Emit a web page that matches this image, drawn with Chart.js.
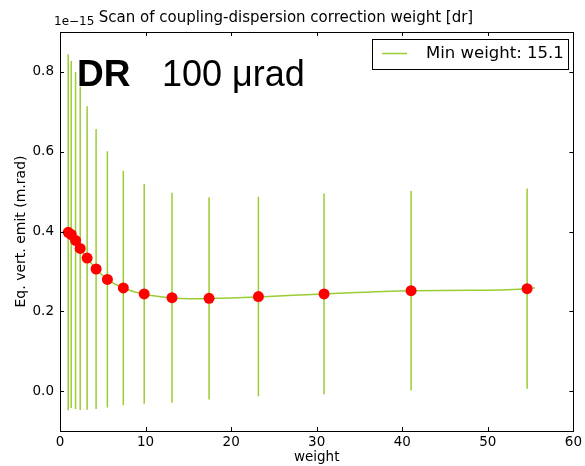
<!DOCTYPE html>
<html>
<head>
<meta charset="utf-8">
<script src="https://cdn.jsdelivr.net/npm/chart.js@4.4.1/dist/chart.umd.min.js"></script>
<style>
html,body{margin:0;padding:0;background:#fff;}
#wrap{width:585px;height:466px;}
</style>
</head>
<body>
<div id="wrap"><canvas id="c" width="585" height="466"></canvas></div>
<script>
// ---- data (emittance values in units of 1e-15 m.rad) ----
const weights = [0.96, 1.31, 1.82, 2.36, 3.17, 4.22, 5.54, 7.40, 9.84, 13.09, 17.42, 23.19, 30.86, 41.03, 54.59];
const emit    = [0.398, 0.3925, 0.3775, 0.3575, 0.3335, 0.306, 0.280, 0.2585, 0.2435, 0.234, 0.2325, 0.2368, 0.2435, 0.2518, 0.2568];
const emitErr = [0.446, 0.435, 0.4225, 0.405, 0.3805, 0.351, 0.321, 0.294, 0.2755, 0.263, 0.2535, 0.250, 0.2515, 0.250, 0.251];
const fitX = [0.96, 1.31, 1.82, 2.36, 3.17, 4.22, 5.54, 7.40, 9.84, 13.09, 15.1, 17.42, 23.19, 30.86, 41.03, 48.0, 54.59, 55.5];
const fitY = [0.398, 0.3925, 0.3775, 0.3575, 0.3335, 0.306, 0.280, 0.2585, 0.2425, 0.2335, 0.2315, 0.232, 0.236, 0.2435, 0.2515, 0.2525, 0.2565, 0.259];
const xTicks = [0, 10, 20, 30, 40, 50, 60];
const yTicks = [0.0, 0.2, 0.4, 0.6, 0.8];
const titleText = "Scan of coupling-dispersion correction weight [dr]";
const offsetText = "1e\u221215";
const legendText = "Min weight: 15.1";
const xTitle = "weight";
const yTitle = "Eq. vert. emit (m.rad)";
const annoBold = "DR";
const annoText = "100 \u03bcrad";

const GREEN = "#9acd32";
const TICKFONT = '"DejaVu Sans", sans-serif';

const pts = weights.map((w, i) => ({x: w, y: emit[i]}));
const bars = [];
weights.forEach((w, i) => {
  bars.push({x: w, y: emit[i] - emitErr[i]});
  bars.push({x: w, y: emit[i] + emitErr[i]});
  bars.push({x: w, y: null});
});
const fit = fitX.map((x, i) => ({x: x, y: fitY[i]}));

const decor = {
  id: 'decor',
  afterDraw(chart) {
    const ctx = chart.ctx;
    const a = chart.chartArea;
    const xs = chart.scales.x, ys = chart.scales.y;
    ctx.save();
    // frame
    ctx.strokeStyle = '#000';
    ctx.lineWidth = 1;
    ctx.strokeRect(Math.round(a.left) + 0.5, Math.round(a.top) + 0.5, Math.round(a.right - a.left), Math.round(a.bottom - a.top));
    // inward ticks
    const TL = 4;
    ctx.beginPath();
    xTicks.forEach(v => {
      const px = Math.round(xs.getPixelForValue(v)) + 0.5;
      ctx.moveTo(px, a.bottom); ctx.lineTo(px, a.bottom - TL);
      ctx.moveTo(px, a.top); ctx.lineTo(px, a.top + TL);
    });
    yTicks.forEach(v => {
      const py = Math.round(ys.getPixelForValue(v)) + 0.5;
      ctx.moveTo(a.left, py); ctx.lineTo(a.left + TL, py);
      ctx.moveTo(a.right, py); ctx.lineTo(a.right - TL, py);
    });
    ctx.stroke();
    // title
    ctx.fillStyle = '#000';
    ctx.textBaseline = 'alphabetic';
    ctx.textAlign = 'center';
    ctx.font = '15px ' + TICKFONT;
    ctx.fillText(titleText, 286, 22);
    // offset text
    ctx.textAlign = 'left';
    ctx.font = '12px ' + TICKFONT;
    ctx.fillText(offsetText, 54, 25);
    // annotation
    ctx.font = 'bold 37px "Liberation Sans", Arial, sans-serif';
    ctx.fillText(annoBold, 77, 86);
    ctx.font = '36px "Liberation Sans", Arial, sans-serif';
    ctx.fillText(annoText, 162, 86);
    // legend
    const lx = 372, ly = 39, lw = 196, lh = 30;
    ctx.fillStyle = '#fff';
    ctx.fillRect(lx, ly, lw, lh);
    ctx.strokeStyle = '#000';
    ctx.strokeRect(lx + 0.5, ly + 0.5, lw, lh);
    ctx.strokeStyle = GREEN;
    ctx.lineWidth = 1.5;
    ctx.beginPath();
    ctx.moveTo(382, 53.5); ctx.lineTo(407, 53.5);
    ctx.stroke();
    ctx.fillStyle = '#000';
    ctx.font = '16.5px ' + TICKFONT;
    ctx.textBaseline = 'middle';
    ctx.fillText(legendText, 426, 54);
    ctx.restore();
  }
};

new Chart(document.getElementById('c'), {
  type: 'scatter',
  data: {
    datasets: [
      {label: 'points', data: pts, showLine: false, pointRadius: 5.5, pointHoverRadius: 5.5,
       backgroundColor: '#ff0000', borderColor: '#ff0000', borderWidth: 0, order: 1},
      {label: legendText, data: fit, showLine: true, pointRadius: 0, borderColor: GREEN,
       borderWidth: 1.5, cubicInterpolationMode: 'monotone', fill: false, order: 2},
      {label: 'errors', data: bars, showLine: true, spanGaps: false, pointRadius: 0,
       borderColor: GREEN, borderWidth: 1.5, fill: false, order: 3}
    ]
  },
  options: {
    responsive: false,
    animation: false,
    devicePixelRatio: 1,
    layout: {padding: {top: 32, right: 10, left: 0, bottom: 0}},
    plugins: {legend: {display: false}, tooltip: {enabled: false}, title: {display: false}},
    scales: {
      x: {
        type: 'linear', min: 0, max: 60,
        afterBuildTicks: s => { s.ticks = xTicks.map(v => ({value: v})); },
        afterFit: s => { s.height = 35; },
        grid: {display: false, drawTicks: false},
        border: {display: false},
        ticks: {color: '#000', padding: 3, font: {family: TICKFONT, size: 13.5}, maxRotation: 0,
                callback: v => String(v)},
        title: {display: true, text: xTitle, color: '#000', font: {family: TICKFONT, size: 13.5},
                padding: {top: 0, bottom: 0}}
      },
      y: {
        type: 'linear', min: -0.1, max: 0.9,
        afterBuildTicks: s => { s.ticks = yTicks.map(v => ({value: v})); },
        afterFit: s => { s.width = 60; },
        grid: {display: false, drawTicks: false},
        border: {display: false},
        ticks: {color: '#000', padding: 6, font: {family: TICKFONT, size: 13.5},
                callback: v => Number(v).toFixed(1)},
        title: {display: true, text: yTitle, color: '#000', font: {family: TICKFONT, size: 14},
                padding: {top: 13, bottom: 0}}
      }
    }
  },
  plugins: [decor]
});
</script>
</body>
</html>
